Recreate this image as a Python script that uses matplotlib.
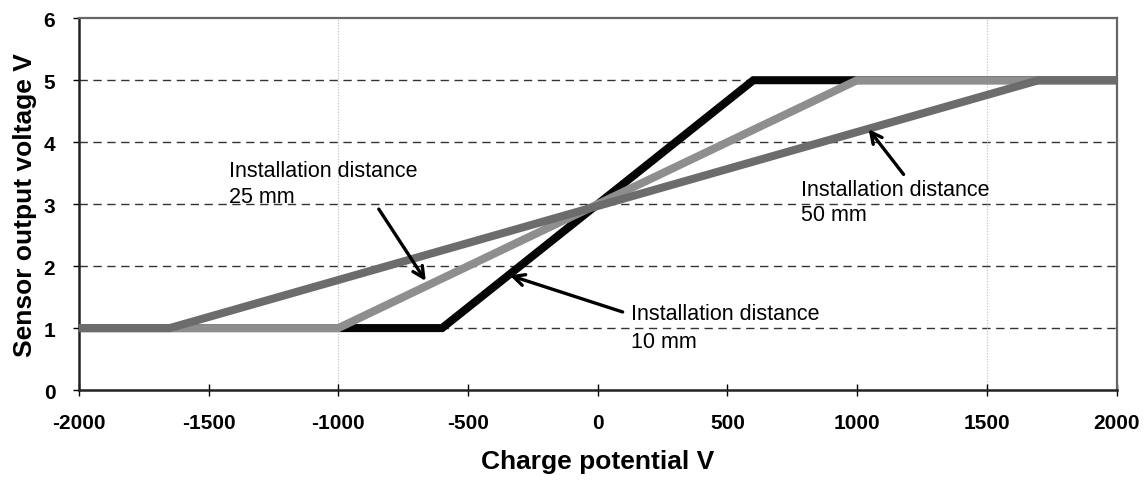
import matplotlib
matplotlib.use("Agg")
import matplotlib.pyplot as plt

plt.rcParams['font.family'] = ['Liberation Sans', 'DejaVu Sans']
plt.rcParams['axes.unicode_minus'] = False

# breakpoints of each sensor curve (charge potential V -> output V)
x_10mm = [-2000, -600, 600, 2000]
y_10mm = [1, 1, 5, 5]
x_25mm = [-2000, -1000, 1000, 2000]
y_25mm = [1, 1, 5, 5]
x_50mm = [-2000, -1650, 1700, 2000]
y_50mm = [1, 1, 5, 5]

x_ticks = [-2000, -1500, -1000, -500, 0, 500, 1000, 1500, 2000]
y_ticks = [0, 1, 2, 3, 4, 5, 6]

fig = plt.figure(figsize=(11.44, 4.81), dpi=100)
ax = fig.add_axes([0.069, 0.187, 0.907, 0.773])

# horizontal dashed grid, sparse dotted verticals
for yv in y_ticks[1:-1]:
    ax.axhline(yv, color='#333333', lw=1.0, ls=(0, (6, 4)), zorder=1)
for xv in [-1000, 1500]:
    ax.axvline(xv, color='#bbbbbb', lw=0.8, ls=(0, (1, 1.5)), zorder=1)

ax.plot(x_10mm, y_10mm, color='#050505', lw=5.8, solid_joinstyle='miter', zorder=3)
ax.plot(x_25mm, y_25mm, color='#8e8e8e', lw=5.8, solid_joinstyle='miter', zorder=4)
ax.plot(x_50mm, y_50mm, color='#6c6c6c', lw=5.8, solid_joinstyle='miter', zorder=5)

ax.set_xlim(-2000, 2000)
ax.set_ylim(0, 6)
ax.set_xticks(x_ticks)
ax.set_yticks(y_ticks)
ax.tick_params(axis='x', direction='inout', length=9, width=1.0, pad=12,
               labelsize=15)
ax.tick_params(axis='y', direction='out', length=4, width=1.0, pad=13,
               labelsize=15)
for lab in ax.get_xticklabels() + ax.get_yticklabels():
    lab.set_fontweight('bold')

for side in ['left', 'bottom']:
    ax.spines[side].set_color('#222222')
    ax.spines[side].set_linewidth(1.8)
for side in ['top', 'right']:
    ax.spines[side].set_color('#666666')
    ax.spines[side].set_linewidth(1.6)

ax.set_xlabel('Charge potential V', fontsize=19, fontweight='bold', labelpad=12)
ax.set_ylabel('Sensor output voltage V', fontsize=19, fontweight='bold', labelpad=5)

arrow = dict(arrowstyle='->,head_length=0.8,head_width=0.4', color='black',
             lw=2.4, shrinkA=0, shrinkB=0)

ax.text(-1420, 3.72, 'Installation distance\n25 mm', fontsize=15.5,
        ha='left', va='top', linespacing=1.35, zorder=6)
ax.annotate('', xy=(-663, 1.76), xytext=(-844, 2.92), arrowprops=arrow, zorder=6)

ax.text(127, 1.4, 'Installation distance\n10 mm', fontsize=15.5,
        ha='left', va='top', linespacing=1.4, zorder=6)
ax.annotate('', xy=(-339, 1.85), xytext=(96, 1.26), arrowprops=arrow, zorder=6)

ax.text(782, 3.4, 'Installation distance\n50 mm', fontsize=15.5,
        ha='left', va='top', linespacing=1.25, zorder=6)
ax.annotate('', xy=(1044, 4.21), xytext=(1179, 3.48), arrowprops=arrow, zorder=6)

fig.savefig('out.png', dpi=100)
